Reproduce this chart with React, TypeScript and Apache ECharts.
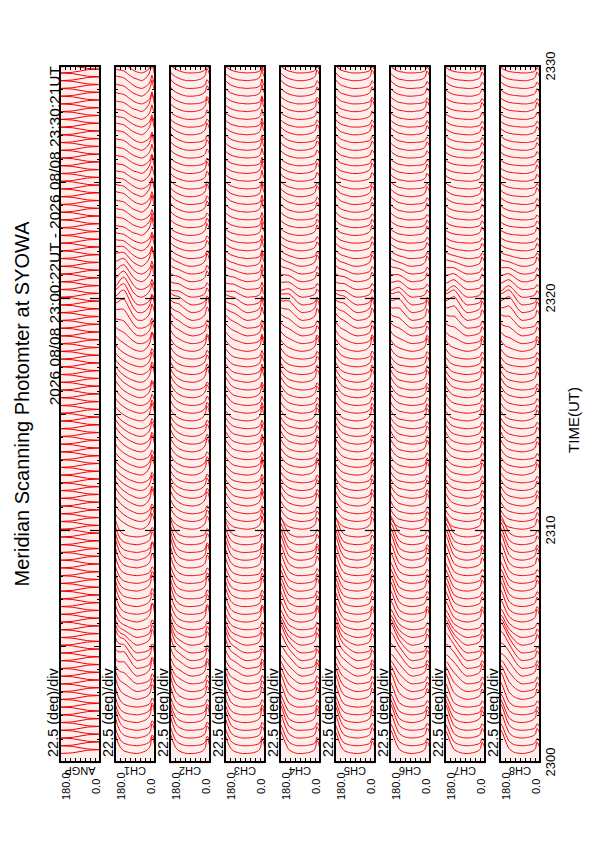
import React, { useEffect, useRef } from 'react';
import * as echarts from 'echarts';

const FONT = '"Liberation Sans", Arial, Helvetica, sans-serif';
const TITLE = 'Meridian Scanning Photomter at SYOWA';
const SUBTITLE = '2026 08/08 23:00:22UT - 2026 08/08 23:30:21UT';
const SCALE_LABEL = '22.5 (deg)/div';
const CHANNEL_NAMES = ['ANGP', 'CH1', 'CH2', 'CH3', 'CH4', 'CH5', 'CH6', 'CH7', 'CH8'];
const ANGLE_END_LABELS = ['180.0', '0.0'];
const TIME_TICK_LABELS = ['2300', '2310', '2320', '2330'];

// scan start times, seconds after 23:00:00 UT
const SCAN_TIMES = [
  22, 42, 62, 82, 102, 122, 142, 162, 182, 202,
  222, 242, 262, 282, 302, 322, 342, 362, 382, 402,
  422, 442, 462, 482, 502, 522, 542, 562, 582, 602,
  622, 642, 662, 682, 702, 722, 742, 762, 782, 802,
  822, 842, 862, 882, 902, 922, 942, 962, 982, 1002,
  1022, 1042, 1062, 1082, 1102, 1122, 1142, 1162, 1182, 1202,
  1222, 1242, 1262, 1282, 1302, 1322, 1342, 1362, 1382, 1402,
  1422, 1442, 1462, 1482, 1502, 1522, 1542, 1562, 1582, 1602,
  1622, 1642, 1662, 1682, 1702, 1722, 1742, 1762, 1782, 1802,
];

// relative brightness of each scan, southern (180..90 deg) half
const SCAN_GAIN_WEST = [
  1.00, 0.95, 1.08, 1.12, 0.97, 0.90, 1.05, 1.15, 1.10, 0.98,
  0.92, 1.03, 1.20, 1.25, 1.10, 0.95, 0.88, 0.93, 1.02, 1.06,
  0.99, 0.94, 0.90, 1.00, 1.08, 1.14, 1.05, 0.96, 0.91, 0.97,
  1.04, 1.10, 1.18, 1.12, 1.00, 0.93, 0.89, 0.95, 1.01, 1.07,
  1.13, 1.09, 0.98, 0.92, 0.96, 1.03, 1.11, 1.16, 1.06, 0.97,
  0.90, 0.94, 1.00, 1.05, 1.12, 1.19, 1.08, 0.99, 0.93, 0.88,
  0.95, 1.02, 1.09, 1.15, 1.10, 1.01, 0.94, 0.90, 0.97, 1.04,
  1.10, 1.17, 1.12, 1.03, 0.96, 0.91, 0.95, 1.00, 1.06, 1.13,
  1.08, 0.99, 0.93, 0.97, 1.02, 1.09, 1.14, 1.05, 0.98, 0.94,
];
// relative brightness of each scan, northern (90..0 deg) half
const SCAN_GAIN_EAST = [
  1.30, 0.85, 1.10, 0.75, 1.40, 0.95, 0.70, 1.20, 1.05, 0.80,
  1.35, 0.90, 1.15, 0.72, 1.25, 1.00, 0.78, 1.45, 0.88, 1.10,
  0.82, 1.28, 0.95, 0.70, 1.18, 1.38, 0.86, 1.02, 0.76, 1.22,
  1.08, 0.74, 1.32, 0.92, 1.15, 0.80, 1.42, 0.98, 0.72, 1.26,
  0.90, 1.12, 0.78, 1.36, 1.00, 0.84, 1.20, 0.74, 1.30, 0.96,
  1.10, 0.80, 1.44, 0.88, 1.05, 0.76, 1.24, 1.34, 0.82, 1.00,
  0.72, 1.18, 0.94, 1.40, 0.86, 1.12, 0.78, 1.28, 1.02, 0.74,
  1.22, 0.92, 1.36, 0.80, 1.08, 1.30, 0.84, 0.98, 1.16, 0.76,
  1.26, 0.88, 1.04, 1.42, 0.80, 1.14, 0.94, 1.32, 0.78, 1.06,
];
// extra auroral hump (seconds) on the southern side of each scan
const SCAN_HUMP = [
  0, 0, 0, 0, 0, 0, 0, 4, 10, 16,
  22, 26, 24, 20, 14, 9, 5, 2, 0, 0,
  0, 0, 0, 0, 0, 0, 0, 0, 0, 0,
  0, 0, 0, 0, 0, 0, 0, 0, 0, 0,
  0, 0, 0, 0, 0, 0, 0, 0, 0, 0,
  0, 0, 3, 8, 14, 20, 26, 30, 28, 22,
  18, 14, 10, 6, 3, 1, 0, 0, 0, 0,
  0, 0, 0, 0, 0, 0, 0, 0, 0, 0,
  0, 0, 0, 0, 0, 0, 0, 0, 0, 0,
];
// hump size per channel (CH1..CH8)
const CHANNEL_HUMP_GAIN = [1.4, 0.5, 0.5, 0.8, 0.6, 1.0, 1.2, 1.2];

// mirror sweep of one half scan (ANG P panel): angle vs seconds from the half-scan start
const ANG_SWEEP_ANGLES = [180, 125, 55, 0];
const ANG_SWEEP_SECONDS = [0, 1.6, 8.4, 10];
const HALF_SCAN_SEC = 10;

// profile sample angles (deg)
const PROFILE_ANGLES = [180, 168, 155, 140, 120, 100, 80, 60, 42, 28, 20, 14, 8, 0];
// shape of the southern hump at those angles
const HUMP_SHAPE = [0, 0.35, 0.75, 1.0, 0.7, 0.25, 0, 0, 0, 0, 0, 0, 0, 0];
// profile deflections (seconds on the time axis) for 2300-2310, 2310-2320, 2320-2330
const CH1_PROFILES = [
  [52, 30, 15, 7, 3, 1, 0, 2, 5, 10, 17, 32, 30, 12],
  [42, 32, 24, 17, 10, 5, 1, 0, 4, 11, 20, 34, 28, 12],
  [30, 27, 26, 24, 16, 8, 3, 0, 5, 13, 22, 36, 24, 8],
];
const CH2_PROFILES = [
  [56, 33, 16, 7, 2, 0, 0, 1, 3, 7, 13, 28, 26, 12],
  [36, 23, 14, 8, 3, 1, 0, 1, 4, 9, 15, 28, 25, 11],
  [23, 15, 10, 6, 2, 0, 0, 1, 3, 7, 12, 24, 20, 9],
];
const CH3_PROFILES = [
  [50, 30, 14, 6, 2, 0, 0, 1, 3, 6, 12, 27, 24, 10],
  [31, 21, 12, 6, 3, 1, 0, 1, 3, 7, 13, 28, 18, 8],
  [19, 13, 8, 5, 2, 1, 0, 1, 2, 5, 10, 26, 12, 5],
];
const CH4_PROFILES = [
  [62, 46, 26, 10, 3, 0, 0, 1, 3, 6, 12, 26, 22, 10],
  [33, 22, 13, 7, 3, 1, 0, 1, 3, 7, 12, 25, 22, 10],
  [21, 14, 9, 5, 2, 0, 0, 1, 3, 6, 10, 21, 18, 8],
];
const CH5_PROFILES = [
  [60, 42, 21, 8, 3, 1, 0, 1, 3, 6, 11, 24, 22, 10],
  [35, 23, 13, 7, 3, 1, 0, 1, 3, 7, 12, 26, 22, 10],
  [22, 14, 8, 5, 2, 0, 0, 1, 3, 6, 10, 21, 18, 8],
];
const CH6_PROFILES = [
  [64, 50, 30, 12, 4, 1, 0, 1, 3, 6, 11, 23, 21, 9],
  [33, 21, 12, 6, 3, 1, 0, 1, 3, 6, 11, 24, 21, 9],
  [20, 13, 8, 4, 2, 0, 0, 1, 2, 5, 9, 19, 16, 7],
];
const CH7_PROFILES = [
  [62, 48, 28, 11, 4, 1, 0, 1, 3, 6, 10, 22, 20, 9],
  [31, 20, 11, 6, 3, 1, 0, 1, 3, 6, 10, 22, 20, 9],
  [17, 11, 7, 4, 2, 1, 0, 0, 2, 4, 8, 17, 14, 6],
];
const CH8_PROFILES = [
  [64, 52, 32, 13, 4, 1, 0, 1, 3, 6, 10, 22, 20, 9],
  [31, 20, 11, 6, 3, 1, 0, 1, 3, 6, 10, 21, 19, 8],
  [17, 11, 7, 4, 2, 1, 0, 0, 2, 4, 8, 17, 14, 6],
];
const CHANNEL_PROFILES = [
  CH1_PROFILES, CH2_PROFILES, CH3_PROFILES, CH4_PROFILES,
  CH5_PROFILES, CH6_PROFILES, CH7_PROFILES, CH8_PROFILES,
];

const PANEL_LEFT0 = 60;
const PANEL_STEP = 55;
const PANEL_W = 40;
const PANEL_TOP = 66;
const PANEL_H = 696;
const RED = '#f00000';

function buildOption() {
  const grid: any[] = [];
  const xAxis: any[] = [];
  const yAxis: any[] = [];
  const series: any[] = [];
  const graphic: any[] = [];
  const nPanels = CHANNEL_NAMES.length;

  for (let i = 0; i < nPanels; i++) {
    const L = PANEL_LEFT0 + PANEL_STEP * i;
    grid.push({
      left: L, top: PANEL_TOP, width: PANEL_W, height: PANEL_H,
      show: true, backgroundColor: '#ffeeee', borderWidth: 0,
    });
    const xBase = {
      type: 'value', gridIndex: i, min: 0, max: 180, interval: 22.5, inverse: true,
      axisLabel: { show: false }, splitLine: { show: false }, z: 5,
      axisLine: { show: true, onZero: false, lineStyle: { color: '#000', width: 2 } },
      axisTick: { show: true, inside: true, length: 4, lineStyle: { color: '#000', width: 1 } },
    };
    xAxis.push({ ...xBase, position: 'bottom' });
    xAxis.push({ ...xBase, position: 'top' });
    const yBase = {
      type: 'value', gridIndex: i, min: 0, max: 1800,
      splitLine: { show: false }, axisLabel: { show: false }, z: 5,
    };
    const yFrame = {
      ...yBase, interval: 300,
      axisLine: { show: true, onZero: false, lineStyle: { color: '#000', width: 2 } },
      axisTick: { show: true, inside: true, length: 6, lineStyle: { color: '#000', width: 1 } },
      minorTick: { show: true, splitNumber: 5, length: 3, lineStyle: { color: '#000', width: 1 } },
    };
    yAxis.push({ ...yFrame, position: 'left' });
    yAxis.push({ ...yFrame, position: 'right' });
    const yMajor = {
      ...yBase, interval: 600,
      axisLine: { show: false, onZero: false },
      axisTick: { show: true, inside: true, length: 10, lineStyle: { color: '#000', width: 1.2 } },
    };
    yAxis.push({ ...yMajor, position: 'left' });
    const last = i === nPanels - 1;
    yAxis.push({
      ...yMajor, position: 'right',
      axisLabel: last ? {
        show: true, rotate: 90, margin: 4, fontSize: 13, color: '#000', fontFamily: FONT,
        formatter: (v: number) => TIME_TICK_LABELS[Math.round(v / 600)] ?? '',
      } : { show: false },
      name: last ? 'TIME(UT)' : '',
      nameLocation: 'middle', nameRotate: 90, nameGap: 26,
      nameTextStyle: { fontSize: 15, color: '#000', fontFamily: FONT, padding: [0, 12, 0, 0] },
    });

    // data
    const data: any[] = [];
    if (i === 0) {
      SCAN_TIMES.forEach((t) => {
        // forward half scan 180 -> 0, then back 0 -> 180
        ANG_SWEEP_ANGLES.forEach((a, j) => data.push([a, t + ANG_SWEEP_SECONDS[j]]));
        for (let j = ANG_SWEEP_ANGLES.length - 2; j >= 1; j--) {
          data.push([ANG_SWEEP_ANGLES[j], t + 2 * HALF_SCAN_SEC - ANG_SWEEP_SECONDS[j]]);
        }
      });
    } else {
      const profs = CHANNEL_PROFILES[i - 1];
      const hg = CHANNEL_HUMP_GAIN[i - 1];
      SCAN_TIMES.forEach((t, k) => {
        const block = Math.min(2, Math.floor(t / 600));
        const prof = profs[block];
        const gw = SCAN_GAIN_WEST[k] ?? 1;
        const ge = SCAN_GAIN_EAST[k] ?? 1;
        const hump = (SCAN_HUMP[k] ?? 0) * hg;
        PROFILE_ANGLES.forEach((a, j) =>
          data.push([a, t + (a > 90 ? gw : ge) * prof[j] + hump * HUMP_SHAPE[j]]),
        );
        data.push(['-', '-']);
      });
    }
    series.push({
      type: 'line', xAxisIndex: 2 * i, yAxisIndex: 4 * i, data,
      showSymbol: false, symbol: 'none', smooth: i === 0 ? false : 0.2,
      connectNulls: false, clip: true, silent: true, z: 2,
      lineStyle: { color: RED, width: 1 },
    });

    // panel texts
    graphic.push({
      type: 'text', x: L - 7, y: 757, rotation: Math.PI / 2, z: 10,
      style: { text: SCALE_LABEL, fontSize: 14.5, fontFamily: FONT, fill: '#000', align: 'left', verticalAlign: 'middle' },
    });
    graphic.push({
      type: 'text', x: L + 5.5, y: 800, rotation: Math.PI / 2, z: 10,
      style: { text: ANGLE_END_LABELS[0], fontSize: 11, fontFamily: FONT, fill: '#000', align: 'left', verticalAlign: 'middle' },
    });
    graphic.push({
      type: 'text', x: L + 36, y: 794, rotation: Math.PI / 2, z: 10,
      style: { text: ANGLE_END_LABELS[1], fontSize: 11, fontFamily: FONT, fill: '#000', align: 'left', verticalAlign: 'middle' },
    });
    graphic.push({
      type: 'text', x: L + 20, y: 771, rotation: Math.PI, z: 10,
      style: { text: CHANNEL_NAMES[i], fontSize: 11, fontFamily: FONT, fill: '#000', align: 'center', verticalAlign: 'middle' },
    });
  }

  graphic.push({
    type: 'text', x: 22, y: 404, rotation: Math.PI / 2, z: 10,
    style: { text: TITLE, fontSize: 20, fontFamily: FONT, fill: '#000', align: 'center', verticalAlign: 'middle' },
  });
  graphic.push({
    type: 'text', x: 54, y: 66, rotation: Math.PI / 2, z: 10,
    style: { text: SUBTITLE, fontSize: 15.5, fontFamily: FONT, fill: '#000', align: 'right', verticalAlign: 'middle' },
  });

  return {
    animation: false,
    backgroundColor: '#ffffff',
    grid, xAxis, yAxis, series, graphic,
  };
}

export default function App() {
  const ref = useRef<HTMLDivElement>(null);
  useEffect(() => {
    if (!ref.current) return;
    const chart = echarts.init(ref.current, undefined, { renderer: 'svg' });
    chart.setOption(buildOption() as any);
    return () => chart.dispose();
  }, []);
  return (
    <div
      ref={ref}
      style={{ position: 'fixed', left: 0, top: 0, width: 595, height: 842, background: '#fff' }}
    />
  );
}
